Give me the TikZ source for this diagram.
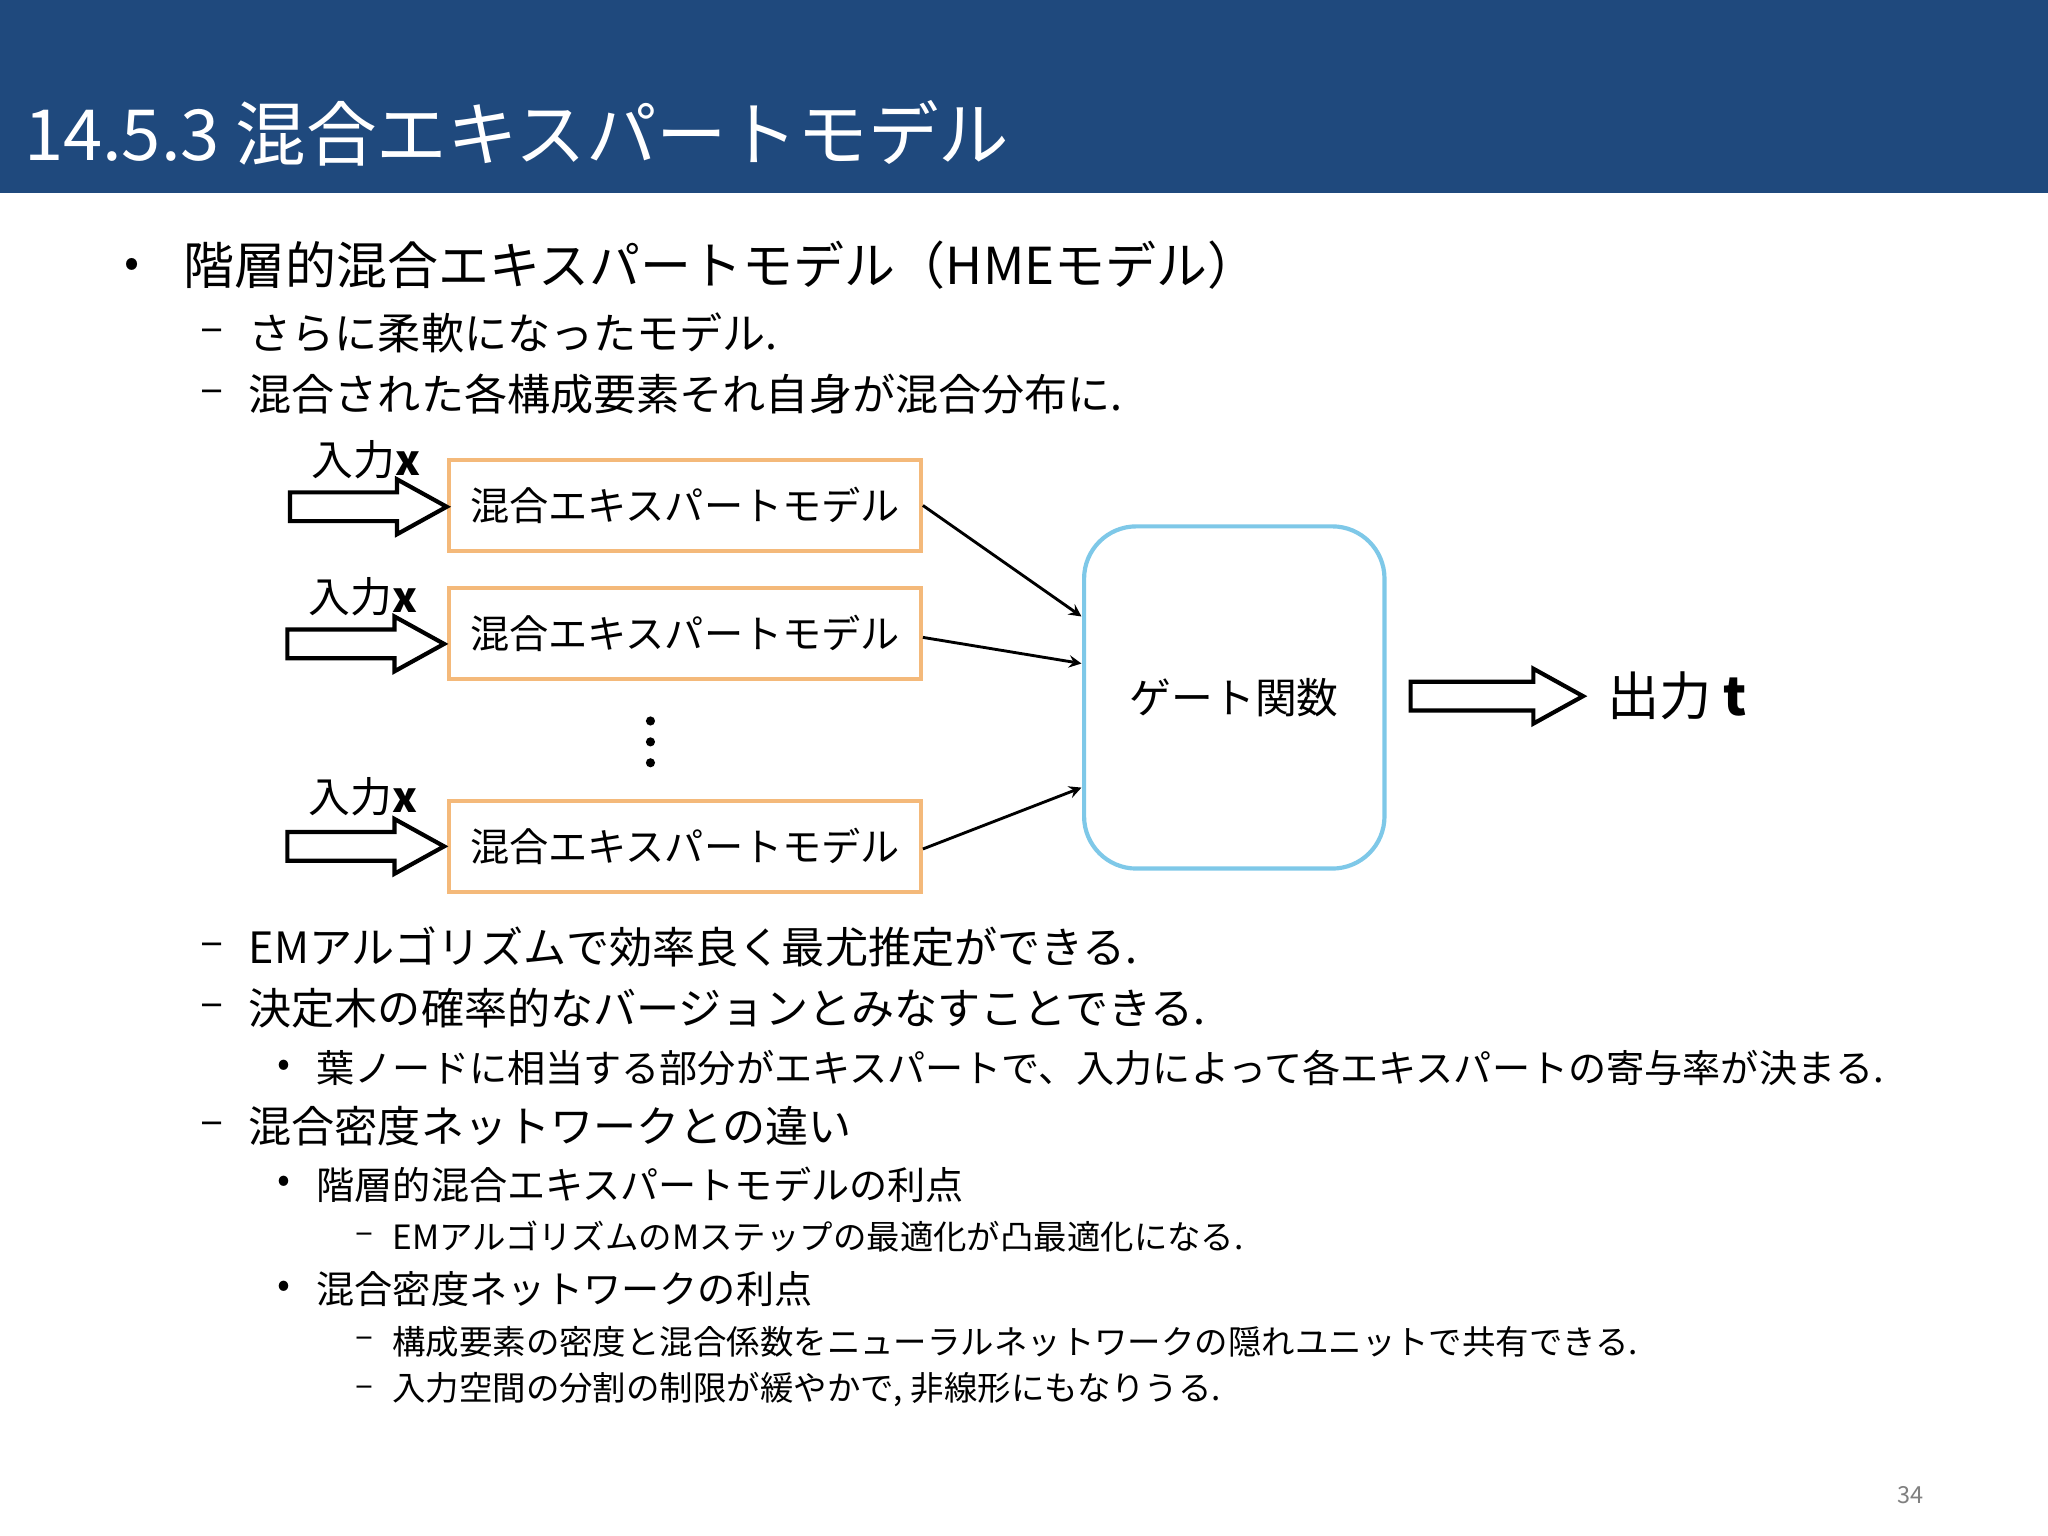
\documentclass[tikz,border=0pt]{standalone}
\usepackage{fontspec}
\setmainfont{Noto Sans CJK JP}
\usetikzlibrary{calc}
\definecolor{titleblue}{HTML}{1F497D}
\definecolor{boxorange}{HTML}{F4B97A}
\definecolor{gateblue}{HTML}{7EC8E8}
\newcommand{\fs}[1]{\fontsize{#1}{#1}\selectfont}
\newcommand{\harrow}[3]{% x y len
  \draw[line width=1.6pt,fill=white,line join=miter] (#1,#2-11) -- (#1+#3-38,#2-11) -- (#1+#3-38,#2-21) -- (#1+#3,#2) -- (#1+#3-38,#2+21) -- (#1+#3-38,#2+11) -- (#1,#2+11) -- cycle;}
\begin{document}
\begin{tikzpicture}[x=0.5pt,y=-0.5pt,
  txt/.style={anchor=west,inner sep=0pt},
  lvA/.style={txt,font=\fs{19.5pt}},
  lvB/.style={txt,font=\fs{16.5pt}},
  lvC/.style={txt,font=\fs{14.6pt}},
  lvD/.style={txt,font=\fs{12.8pt}},
  expert/.style={draw=boxorange,line width=1.6pt,minimum width=180.5pt,minimum height=35pt,inner sep=0pt,font=\fs{15pt}},
  inlab/.style={inner sep=0pt,font=\fs{16pt}},
  conn/.style={-stealth,line width=1.1pt}]
\useasboundingbox (0,0) rectangle (1568,1176);
\fill[white] (0,0) rectangle (1568,1176);
\fill[titleblue] (0,0) rectangle (1568,148);
\node[txt,text=white,font=\fs{27pt}] (title) at (18,102) {14.5.3 混合エキスパートモデル};

\node[txt,font=\fs{17pt}] (b1) at (95,205) {•};
\node[lvA] (t1) at (140,203) {階層的混合エキスパートモデル（HMEモデル）};
\node[lvB] (d1) at (153,257) {–};
\node[lvB] (t2) at (190,255) {さらに柔軟になったモデル.};
\node[lvB] (d2) at (153,304) {–};
\node[lvB] (t3) at (190,302) {混合された各構成要素それ自身が混合分布に.};

\node[expert] (e1) at (524.5,387) {混合エキスパートモデル};
\node[expert] (e2) at (524.5,485) {混合エキスパートモデル};
\node[expert] (e3) at (524.5,648) {混合エキスパートモデル};
\node[inlab] (i1) at (280,352) {入力$\mathbf{x}$};
\node[inlab] (i2) at (278,457) {入力$\mathbf{x}$};
\node[inlab] (i3) at (278,610) {入力$\mathbf{x}$};
\harrow{222}{388}{120}
\harrow{220}{493}{120}
\harrow{220}{648}{120}
\foreach \yy in {552,568,584} \fill (498,\yy) circle (3.5);

\node[draw=gateblue,line width=1.6pt,rounded corners=20pt,minimum width=115pt,minimum height=131pt,font=\fs{16pt}] (gate) at (945,534) {ゲート関数};
\coordinate (g1) at (828,472);
\coordinate (g2) at (828,508);
\coordinate (g3) at (828,603);
\draw[conn] (e1.east) -- (g1);
\draw[conn] ($(e2.east)+(0,3)$) -- (g2);
\draw[conn] ($(e3.east)+(0,2)$) -- (g3);
\harrow{1080}{533}{132}
\node[txt,font=\fs{20pt}] (out) at (1230,533) {出力 {\fs{20pt}$\mathbf{t}$}};

\node[lvB] (d3) at (153,727) {–};
\node[lvB] (t4) at (190,725) {EMアルゴリズムで効率良く最尤推定ができる.};
\node[lvB] (d4) at (153,774) {–};
\node[lvB] (t5) at (190,772) {決定木の確率的なバージョンとみなすことできる.};
\node[lvC] (b2) at (212,818) {•};
\node[lvC] (t6) at (242,818) {葉ノードに相当する部分がエキスパートで、入力によって各エキスパートの寄与率が決まる.};
\node[lvB] (d5) at (153,864) {–};
\node[lvB] (t7) at (190,862) {混合密度ネットワークとの違い};
\node[lvC] (b3) at (212,907) {•};
\node[lvC] (t8) at (242,907) {階層的混合エキスパートモデルの利点};
\node[lvD] (d6) at (272,948) {–};
\node[lvD] (t9) at (300,947) {EMアルゴリズムのMステップの最適化が凸最適化になる.};
\node[lvC] (b4) at (212,987) {•};
\node[lvC] (t10) at (242,987) {混合密度ネットワークの利点};
\node[lvD] (d7) at (272,1028) {–};
\node[lvD] (t11) at (300,1027) {構成要素の密度と混合係数をニューラルネットワークの隠れユニットで共有できる.};
\node[lvD] (d8) at (272,1065) {–};
\node[lvD] (t12) at (300,1064) {入力空間の分割の制限が緩やかで, 非線形にもなりうる.};
\node[txt,text=gray,font=\fs{9pt}] (pg) at (1452,1145) {34};
\end{tikzpicture}
\end{document}
